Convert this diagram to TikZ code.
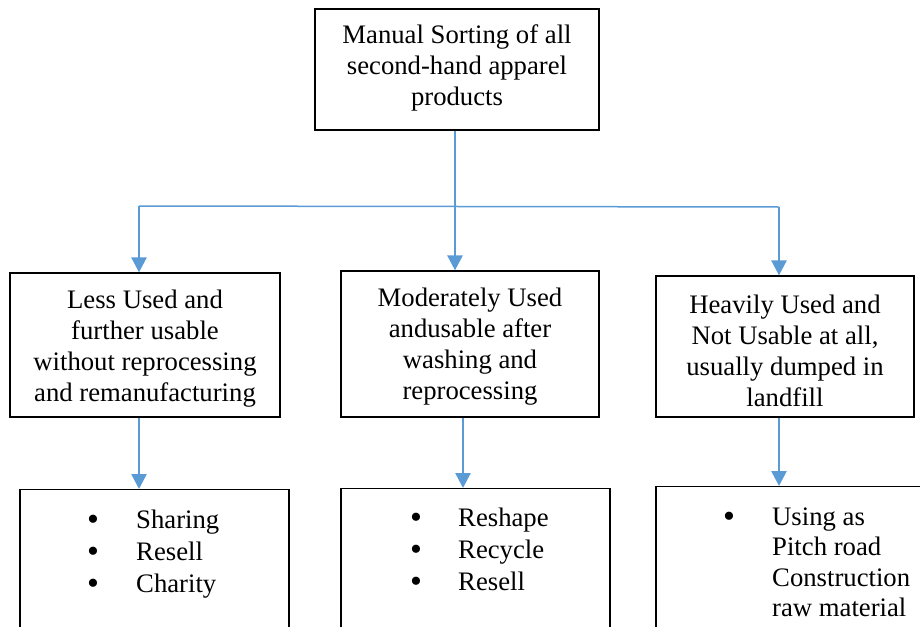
\documentclass[tikz,border=0pt]{standalone}
\usepackage{fontspec}
\setmainfont{Liberation Serif}
\usetikzlibrary{arrows.meta}
\definecolor{lineblue}{HTML}{5B9BD5}
\begin{document}
\begin{tikzpicture}[x=1pt,y=-1pt,
  box/.style={draw=black,line width=1.2pt,inner sep=0pt},
  lab/.style={inner sep=0pt,align=center,font=\fontsize{26.7}{31}\selectfont},
  txt/.style={inner sep=0pt,font=\fontsize{26.7}{31}\selectfont},
  bul/.style={inner sep=0pt,font=\fontsize{34}{31}\selectfont},
  link/.style={draw=lineblue,line width=1.5pt},
  arr/.style={draw=lineblue,line width=2.6pt,-{Triangle[width=15pt,length=15pt]}}]
\useasboundingbox (0,0) rectangle (920,626);
\clip (0,0) rectangle (920,626);
% level 1
\node[box,minimum width=284,minimum height=121] (top) at (457,69.5) {};
\node[lab] (topT) at (457,67.5) {Manual Sorting of all\\second-hand apparel\\products};
% level 2
\node[box,minimum width=270,minimum height=144] (less) at (145,345) {};
\node[lab] (lessT) at (145,349) {Less Used and\\further usable\\without reprocessing\\and remanufacturing};
\node[box,minimum width=258,minimum height=146] (mod) at (470,344) {};
\node[lab] (modT) at (470,347) {Moderately Used\\andusable after\\washing and\\reprocessing};
\node[box,minimum width=258,minimum height=141] (heavy) at (785,346.5) {};
\node[lab] (heavyT) at (785,350.5) {Heavily Used and\\Not Usable at all,\\usually dumped in\\landfill};
% level 3
\node[box,anchor=north,minimum width=269,minimum height=200] (b1) at (154.5,489) {};
\node[box,anchor=north,minimum width=269,minimum height=200] (b2) at (475.5,488) {};
\node[box,anchor=north,minimum width=290,minimum height=200] (b3) at (801,486) {};
% connectors
\coordinate (jL) at (139,206);
\coordinate (jM) at (455,206.5);
\coordinate (jR) at (779,207);
\coordinate (kM) at (463,450);
\draw[link] (top.south -| jM) -- (jM);
\draw[link] (jL) -- (jR);
\draw[arr] (jL) -- (less.north -| jL);
\draw[arr] (jM) -- (mod.north -| jM);
\draw[arr] (jR) -- (heavy.north -| jR);
\draw[arr] (less.south -| jL) -- (b1.north -| jL);
\draw[arr] (mod.south -| kM) -- (b2.north -| kM);
\draw[arr] (heavy.south -| jR) -- (b3.north -| jR);
% list 1
\node[bul,anchor=base] (a1) at (93,530) {•};
\node[txt,anchor=base west] (a1t) at (136,528) {Sharing};
\node[bul,anchor=base] (a2) at (93,562) {•};
\node[txt,anchor=base west] (a2t) at (136,560) {Resell};
\node[bul,anchor=base] (a3) at (93,594) {•};
\node[txt,anchor=base west] (a3t) at (136,592) {Charity};
% list 2
\node[bul,anchor=base] (c1) at (416,528) {•};
\node[txt,anchor=base west] (c1t) at (458,526) {Reshape};
\node[bul,anchor=base] (c2) at (416,560) {•};
\node[txt,anchor=base west] (c2t) at (458,558) {Recycle};
\node[bul,anchor=base] (c3) at (416,592) {•};
\node[txt,anchor=base west] (c3t) at (458,590) {Resell};
% list 3
\node[bul,anchor=base] (d1) at (729,527) {•};
\node[txt,anchor=base west] (d1t) at (772,525) {Using as};
\node[txt,anchor=base west] (d2t) at (772,555) {Pitch road};
\node[txt,anchor=base west] (d3t) at (772,586) {Construction};
\node[txt,anchor=base west] (d4t) at (772,616) {raw material};
\end{tikzpicture}
\end{document}
